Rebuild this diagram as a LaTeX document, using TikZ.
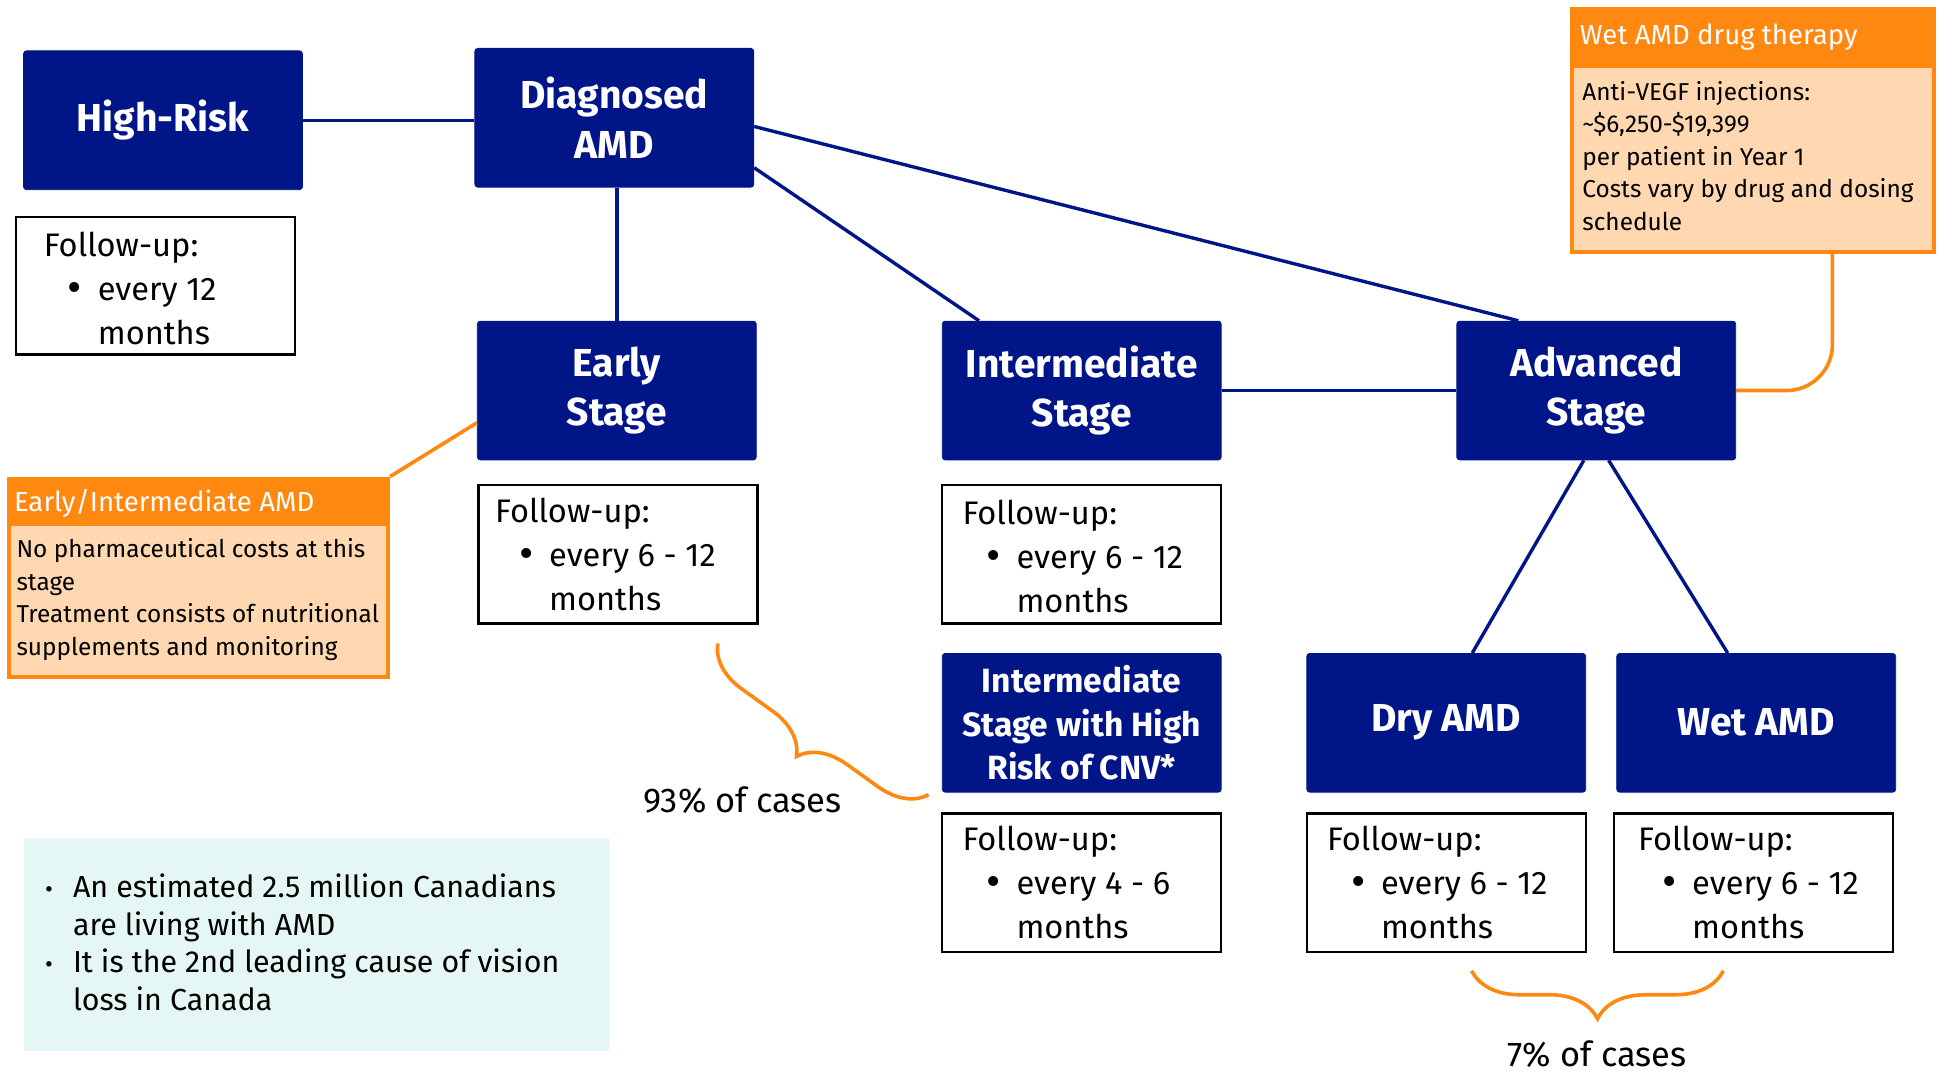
\documentclass[tikz,border=0pt]{standalone}
\usepackage{fontspec}
\setmainfont{Fira Sans}
\usetikzlibrary{fit,calc,decorations.pathreplacing}
\definecolor{navy}{RGB}{0,21,136}
\definecolor{orbright}{RGB}{255,136,17}
\definecolor{peach}{RGB}{255,215,176}
\definecolor{mint}{RGB}{229,247,245}
\newcommand{\fubul}{\raisebox{-1pt}{\scalebox{1.35}{\textbullet}}}
\newcommand{\futxt}[2]{Follow-up:\\\hspace*{12pt}\makebox[15pt][l]{\fubul}#1\\\hspace*{27pt}#2}
\newcommand{\infobul}{\makebox[14pt][l]{\fontsize{12}{12}\selectfont\textbullet}}
\begin{document}
\begin{tikzpicture}[x=0.62pt,y=-0.62pt,
  stagebox/.style={fill=navy, draw=navy, rounded corners=1.5pt, inner sep=0pt, text=white,
    minimum width=139.5pt, minimum height=69.4pt,
    font=\bfseries\fontsize{19.5}{24.8}\selectfont, align=center},
  fubox/.style={draw=black, line width=1.2pt, fill=white, inner sep=0pt},
  futext/.style={anchor=west, align=left, inner sep=0pt, font=\fontsize{16.3}{22}\selectfont},
  link/.style={draw=navy, line width=1.7pt},
  olink/.style={draw=orbright, line width=1.8pt},
  ohead/.style={fill=orbright, inner sep=0pt},
  obody/.style={fill=peach, inner sep=0pt},
  oframe/.style={draw=orbright, line width=2pt, inner sep=0pt},
  ohtext/.style={anchor=west, inner sep=0pt, text=white, font=\fontsize{13.8}{16}\selectfont},
  obtext/.style={anchor=north west, align=left, inner sep=0pt, font=\fontsize{12.2}{16.3}\selectfont},
  bracestyle/.style={draw=orbright, line width=1.8pt, decorate},
  pct/.style={inner sep=0pt, font=\fontsize{17.2}{19}\selectfont}
]
\useasboundingbox (0,0) rectangle (1568,866);

% stage boxes
\node[stagebox] (hr) at (131.5,97) {High-Risk};
\node[stagebox] (dx) at (495.5,95) {Diagnosed\\AMD};
\node[stagebox] (early) at (497.5,315) {Early\\Stage};
\node[stagebox] (inter) at (872.5,315) {Intermediate\\Stage};
\node[stagebox] (adv) at (1287.5,315) {Advanced\\Stage};
\node[stagebox, font=\bfseries\fontsize{16.8}{21.7}\selectfont] (cnv) at (872.5,583) {Intermediate\\Stage with High\\Risk of CNV*};
\node[stagebox] (dry) at (1166.5,583) {Dry AMD};
\node[stagebox] (wet) at (1416.5,583) {Wet AMD};

% follow-up boxes
\node[fubox, fit={(13,175)(238,286)}] (f0) {};
\node[futext] (f0t) at ($(f0.west)+(23,2)$) {\futxt{every 12}{months}};
\node[fubox, fit={(386,391)(611,503)}] (f1) {};
\node[futext] (f1t) at ($(f1.west)+(14,0)$) {\futxt{every 6 - 12}{months}};
\node[fubox, fit={(760,391)(985,503)}] (f2) {};
\node[futext] (f2t) at ($(f2.west)+(17,2)$) {\futxt{every 6 - 12}{months}};
\node[fubox, fit={(760,656)(985,768)}] (f3) {};
\node[futext] (f3t) at ($(f3.west)+(17,0)$) {\futxt{every 4 - 6}{months}};
\node[fubox, fit={(1054,656)(1279,768)}] (f4) {};
\node[futext] (f4t) at ($(f4.west)+(17,0)$) {\futxt{every 6 - 12}{months}};
\node[fubox, fit={(1302,656)(1527,768)}] (f5) {};
\node[futext] (f5t) at ($(f5.west)+(20,0)$) {\futxt{every 6 - 12}{months}};

% navy connectors
\draw[link] (hr.east) -- (hr.east -| dx.west);
\draw[link] (early.north |- dx.south) -- (early.north);
\draw[link] ($(dx.south east)+(0,-16)$) -- ($(inter.north west)+(30,0)$);
\draw[link] ($(dx.east)+(0,7)$) -- ($(adv.north west)+(50,0)$);
\draw[link] (inter.east) -- (adv.west);
\draw[link] ($(adv.south)+(-10,0)$) -- ($(dry.north)+(21,0)$);
\draw[link] ($(adv.south)+(10,0)$) -- ($(wet.north)+(-23,0)$);

% wet AMD drug therapy callout
\node[ohead, fit={(1268,7)(1560,55)}] (wch) {};
\node[obody, fit={(1268,55)(1560,203)}] (wcb) {};
\node[oframe, fit={(1268,7)(1560,203)}] (wc) {};
\node[ohtext] (wcht) at (1274,30) {Wet AMD drug therapy};
\node[obtext] (wcbt) at (1276,65) {Anti-VEGF injections:\\\textasciitilde\$6,250-\$19,399\\per patient in Year 1\\Costs vary by drug and dosing\\schedule};
\coordinate (wcx) at (1478,203);
\draw[olink, rounded corners=23pt] (wcx) |- (adv.east);

% early/intermediate callout
\node[ohead, fit={(7,386)(313,424)}] (ech) {};
\node[obody, fit={(7,424)(313,546)}] (ecb) {};
\node[oframe, fit={(7,386)(313,546)}] (ec) {};
\node[ohtext] (echt) at (11,406) {Early/Intermediate AMD};
\node[obtext] (ecbt) at (13,434) {No pharmaceutical costs at this\\stage\\Treatment consists of nutritional\\supplements and monitoring};
\draw[olink] (ec.north east) -- ($(early.west)+(0,26)$);

% braces
\draw[bracestyle, decoration={brace, amplitude=23pt}] (749,641) -- (579,519);
\node[pct] (p93) at (599,645) {93\% of cases};
\draw[bracestyle, decoration={brace, amplitude=24pt}] (1390,783) -- (1187,783);
\node[pct] (p7) at (1288,850) {7\% of cases};

% info box
\node[fill=mint, inner sep=0pt, fit={(19,676)(491,848)}] (info) {};
\node[anchor=west, align=left, inner sep=0pt, font=\fontsize{15.2}{18.9}\selectfont] (infot) at (36,760)
 {\infobul An estimated 2.5 million Canadians\\\hspace*{14pt}are living with AMD\\\infobul It is the 2nd leading cause of vision\\\hspace*{14pt}loss in Canada};
\end{tikzpicture}
\end{document}
